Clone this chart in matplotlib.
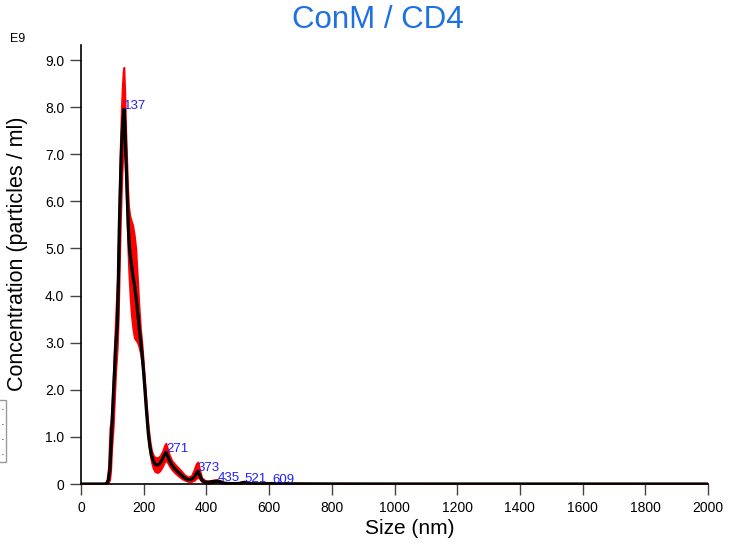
import numpy as np
import matplotlib
matplotlib.use("Agg")
import matplotlib.pyplot as plt
from matplotlib.patches import Rectangle

plt.rcParams['font.family'] = ['Liberation Sans', 'DejaVu Sans']

# Size (nm)
sizes = [0, 75, 82, 87, 92, 95, 98, 103, 107, 111, 116, 119, 122, 125, 128, 131, 134, 137,
         140, 143, 146, 149, 152, 156, 160, 165, 170, 175, 180, 185, 190, 195, 200, 205,
         210, 215, 220, 225, 230, 236, 244, 252, 260, 266, 271, 276, 282, 290, 300, 310,
         320, 330, 342, 352, 360, 367, 373, 379, 385, 395, 405, 415, 425, 435, 445, 455,
         470, 490, 505, 515, 521, 528, 540, 570, 600, 609, 620, 700, 800, 1000, 2000]
# Mean concentration (E9 particles / ml)
mean_conc = [0, 0, 0.01, 0.08, 0.3, 0.7, 1.15, 1.86, 2.4, 2.95, 3.4, 4.3, 5.4, 6.2, 6.9, 7.4, 7.75, 7.95,
             7.6, 7.0, 6.4, 5.8, 5.3, 4.9, 4.7, 4.45, 4.25, 4.0, 3.7, 3.35, 3.05, 2.75, 2.35, 1.9,
             1.45, 1.05, 0.78, 0.6, 0.5, 0.42, 0.4, 0.44, 0.53, 0.62, 0.67, 0.6, 0.5, 0.4, 0.32, 0.25,
             0.19, 0.13, 0.09, 0.1, 0.14, 0.21, 0.27, 0.18, 0.09, 0.04, 0.035, 0.045, 0.055, 0.06, 0.045, 0.02,
             0.01, 0.008, 0.012, 0.03, 0.035, 0.025, 0.008, 0.005, 0.008, 0.01, 0.008, 0.004, 0.002, 0.001, 0]
# Upper error bound
upper_conc = [0, 0, 0.05, 0.35, 1.2, 1.3, 1.6, 2.4, 3.1, 3.7, 4.4, 5.2, 6.3, 7.2, 7.9, 8.4, 8.75, 8.85,
              8.3, 7.5, 6.9, 6.3, 5.9, 5.7, 5.6, 5.5, 5.3, 5.0, 4.4, 3.8, 3.3, 2.95, 2.5, 2.05,
              1.6, 1.2, 0.92, 0.72, 0.62, 0.57, 0.56, 0.6, 0.7, 0.82, 0.87, 0.75, 0.62, 0.5, 0.42, 0.35,
              0.28, 0.2, 0.15, 0.18, 0.3, 0.43, 0.47, 0.3, 0.14, 0.08, 0.07, 0.08, 0.09, 0.095, 0.07, 0.035,
              0.02, 0.015, 0.025, 0.05, 0.06, 0.04, 0.015, 0.01, 0.012, 0.015, 0.012, 0.006, 0.003, 0.002, 0]
# Lower error bound
lower_conc = [0, 0, 0, 0.02, 0.1, 0.3, 0.75, 1.2, 1.8, 2.4, 2.9, 3.5, 4.4, 5.3, 6.0, 6.6, 7.0, 7.2,
              6.9, 6.3, 5.7, 5.0, 4.5, 4.0, 3.6, 3.3, 3.1, 3.05, 3.0, 2.9, 2.75, 2.5, 2.15, 1.7,
              1.3, 0.9, 0.62, 0.45, 0.33, 0.26, 0.24, 0.28, 0.37, 0.46, 0.5, 0.45, 0.38, 0.3, 0.23, 0.17,
              0.12, 0.08, 0.05, 0.05, 0.07, 0.11, 0.15, 0.1, 0.05, 0.02, 0.015, 0.02, 0.03, 0.035, 0.025, 0.01,
              0.005, 0.004, 0.006, 0.015, 0.02, 0.012, 0.004, 0.002, 0.004, 0.006, 0.004, 0.002, 0.001, 0, 0]

peak_sizes = [137, 271, 373, 435, 521, 609]

x_ticks = [0, 200, 400, 600, 800, 1000, 1200, 1400, 1600, 1800, 2000]
y_ticks = [0, 1, 2, 3, 4, 5, 6, 7, 8, 9]
y_tick_labels = ['0', '1.0', '2.0', '3.0', '4.0', '5.0', '6.0', '7.0', '8.0', '9.0']

W, H = 745, 547
fig = plt.figure(figsize=(W / 100, H / 100), dpi=100)
ax = fig.add_axes([81 / W, (H - 484) / H, 627 / W, 439 / H])

ax.fill_between(sizes, lower_conc, upper_conc, color='#ff0000', lw=1.2, edgecolor='#ff0000', zorder=2)
ax.plot(sizes, mean_conc, color='black', lw=2.3, zorder=3, solid_joinstyle='round')

for p in peak_sizes:
    yv = float(np.interp(p, sizes, mean_conc))
    ax.annotate(str(p), xy=(p, yv), xytext=(0, -2), textcoords='offset points',
                ha='left', va='bottom', color='#2020ff', fontsize=9.5, zorder=4)

ax.set_xlim(0, 2000)
ax.set_ylim(0, 9.32)
ax.set_xticks(x_ticks)
ax.set_xticklabels([str(t) for t in x_ticks])
ax.set_yticks(y_ticks)
ax.set_yticklabels(y_tick_labels)
ax.tick_params(axis='both', length=8, width=1, color='#444444', labelsize=10, pad=4)

for s in ['top', 'right']:
    ax.spines[s].set_visible(False)
for s in ['left', 'bottom']:
    ax.spines[s].set_linewidth(1.2)

ax.set_xlabel('Size (nm)', fontsize=15)
ax.xaxis.set_label_coords((410 - 81) / 627, (484 - 528) / 439)
ax.set_ylabel('Concentration (particles / ml)', fontsize=15.5)
ax.yaxis.set_label_coords((18 - 81) / 627, (484 - 254) / 439)
for lab in (ax.xaxis.label, ax.yaxis.label):
    lab.set_va('center')
    lab.set_ha('center')

fig.text(18 / W, 1 - 39 / H, 'E9', fontsize=9, ha='center', va='center')
fig.text(378 / W, 1 - 20 / H, 'ConM / CD4', fontsize=22.5, color='#1f70e0',
         ha='center', va='center')

# clipped legend box at left edge
fig.patches.append(Rectangle((-5 / W, 1 - 462 / H), 11 / W, 62 / H, transform=fig.transFigure,
                             facecolor='white', edgecolor='#999999', lw=1, figure=fig))
for yy in (410, 425, 440, 455):
    fig.text(2 / W, 1 - yy / H, '·', fontsize=8, ha='center', va='center')

fig.savefig('out.png', dpi=100)
